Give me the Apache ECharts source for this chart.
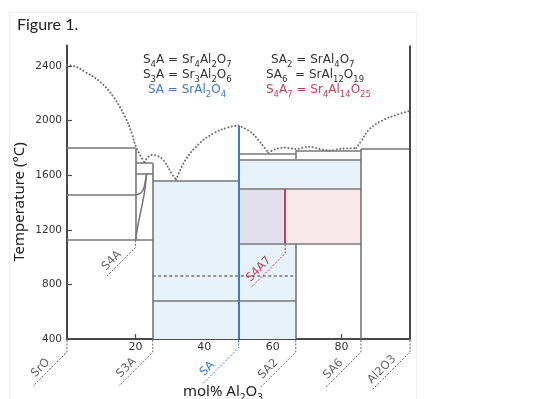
<!DOCTYPE html>
<html><head><meta charset="utf-8">
<script src="https://cdn.jsdelivr.net/npm/echarts@6/dist/echarts.min.js"></script>
<style>html,body{margin:0;padding:0;background:#fff}#c{width:560px;height:399px}</style>
</head><body><div id="c"></div>
<script>
// ---- data (mol% Al2O3, temperature °C) ----
const xTickValues = [20, 40, 60, 80];
const yTickValues = [400, 800, 1200, 1600, 2000, 2400];

// liquidus (dotted), split at the cusps
const liquidusA = [[0,2405],[2.5,2395],[5.2,2358],[9.6,2285],[13.5,2175],[16.9,2029],[18.9,1907],[20.3,1797],[22.6,1694]];
const liquidusB = [[22.6,1694],[23.6,1732],[25,1748],[26.5,1740],[28.1,1711],[30.5,1614],[31.8,1567]];
const liquidusC = [[31.8,1567],[34.6,1714],[38.75,1836],[42.9,1909],[47.1,1951],[50,1963]];
const liquidusD = [[50,1963],[53.4,1919],[55.8,1858],[57.7,1797],[58.7,1765]];
const liquidusE = [[58.7,1765],[61,1792],[63.6,1802],[66.7,1792],[70.5,1808],[74,1790],[76.5,1780],[80.5,1795],[84.3,1797]];
const liquidusF = [[84.3,1797],[85.5,1840],[88.3,1940],[92.2,2004],[96.1,2042],[100,2072]];

// solid phase-boundary segments [[x0,T0],[x1,T1]]
const boundaries = [
  [[0,1800],[20,1800]], [[0,1457],[20,1457]], [[0,1130],[25,1130]],
  [[20,1800],[20,1130]], [[20,1690],[25,1690]], [[20,1610],[25,1610]],
  [[25,1690],[25,400]], [[25,1560],[50,1560]], [[25,682],[66.7,682]],
  [[50,1760],[66.7,1760]], [[66.7,1716],[66.7,1780]], [[66.7,1780],[85.7,1780]],
  [[50,1716],[85.7,1716]], [[50,1500],[85.7,1500]], [[50,1100],[85.7,1100]],
  [[66.7,1100],[66.7,400]], [[85.7,1792],[85.7,400]], [[85.7,1792],[100,1792]]
];
const dashedBoundary = [[[25,862],[66.7,862]]];
const solvusCurve1 = [[20,1130],[20.8,1248],[21.8,1369],[22.7,1492],[23.2,1610]];
const solvusCurve2 = [[20,1457],[21.3,1467],[22.2,1492],[22.7,1541],[23.2,1610]];
const saLine = [[[50,1963],[50,400]]];
const s4a7Line = [[[63.6,1500],[63.6,1100]]];
const frameRight = [[[100,400],[100,2550]]];

// shaded fields [x0, x1, T0, T1]
const fieldsBlue = [[25,50,400,1560],[50,66.7,400,1100],[50,85.7,1500,1716]];
const fieldsPurple = [[50,63.6,1100,1500]];
const fieldsPink = [[63.6,85.7,1100,1500]];

// composition labels
const compNames = ['SrO','S3A','SA','SA2','SA6','Al2O3','S4A','S4A7'];
const compX = [0,25,50,66.7,85.7,100,20,63.6];
const compT = [400,400,400,400,400,400,1130,1100];

// legend formulas ({n} = subscript)
const formulasLeft = ['S{4}A = Sr{4}Al{2}O{7}', 'S{3}A = Sr{3}Al{2}O{6}', 'SA = SrAl{2}O{4}'];
const formulasRight = ['SA{2} = SrAl{4}O{7}', 'SA{6}  = SrAl{12}O{19}', 'S{4}A{7} = Sr{4}Al{14}O{25}'];

// ---- styles ----
const GREY = '#767676', AXIS = '#4a4a4a', BLUE = '#3d7cc6', RED = '#c23f58', TXT = '#333';
const guideStyle = [
  {c:'#666', drop:13, diag:34, at:0.62},
  {c:'#666', drop:13, diag:34, at:0.62},
  {c:BLUE,  drop:9,  diag:36, at:0.72},
  {c:'#666', drop:13, diag:36, at:0.62},
  {c:'#666', drop:13, diag:36, at:0.62},
  {c:'#666', drop:13, diag:38, at:0.6},
  {c:'#666', drop:8,  diag:30, at:0.62},
  {c:RED,   drop:10, diag:34, at:0.62}
];

function toRich(s){
  return s.split(/(\{[^}]*\})/).filter(t => t).map(t => t[0] === '{' ? '{s|' + t.slice(1,-1) + '}' : '{n|' + t + '}').join('');
}
function richStyles(color, size, sub){
  return {n:{fill:color, fontSize:size, fontFamily:'DejaVu Sans', lineHeight:size+3, verticalAlign:'top'},
          s:{fill:color, fontSize:sub, fontFamily:'DejaVu Sans', lineHeight:sub+2, verticalAlign:'bottom'}};
}
function formulaText(s, left, top, color){
  return {type:'text', left:left, top:top, silent:true,
    style:{text:toRich(s), rich:richStyles(color, 12, 8.5)}};
}

function rectSeries(data, color) {
  return {type:'custom', silent:true, z:1, data:data,
    renderItem:function(p, api){
      const a = api.coord([api.value(0), api.value(3)]);
      const b = api.coord([api.value(1), api.value(2)]);
      return {type:'rect', shape:{x:a[0], y:a[1], width:b[0]-a[0], height:b[1]-a[1]}, style:{fill:color}};
    }};
}
function segSeries(data, color, width, dash, z) {
  return {type:'lines', coordinateSystem:'cartesian2d', silent:true, z:z||3,
    data:data.map(s => ({coords:s})),
    lineStyle:{color:color, width:width, type:dash||'solid', opacity:1}};
}
function curveSeries(data, color, width, dash, smooth) {
  return {type:'line', data:data, smooth:smooth, symbol:'none', silent:true, z:4,
    lineStyle:{color:color, width:width, type:dash||'solid', cap:'round'}};
}
const dotted = [0.1, 3.4];

const guideData = compNames.map((n,i) => [compX[i], compT[i], n]);

const option = {
  animation:false,
  grid:{left:67, right:150, top:45.5, bottom:60, containLabel:false},
  xAxis:{type:'value', min:0, max:100,
    axisLine:{show:true, lineStyle:{color:AXIS, width:2}},
    axisTick:{show:true, inside:true, length:5, customValues:xTickValues, lineStyle:{color:AXIS, width:1.2}},
    axisLabel:{customValues:xTickValues, color:TXT, fontFamily:'DejaVu Sans', fontSize:11, margin:3, formatter:v => String(v)},
    splitLine:{show:false}},
  yAxis:{type:'value', min:400, max:2550,
    axisLine:{show:true, lineStyle:{color:AXIS, width:2}},
    axisTick:{show:true, inside:true, length:5, customValues:yTickValues, lineStyle:{color:AXIS, width:1.2}},
    axisLabel:{customValues:yTickValues, color:TXT, fontFamily:'DejaVu Sans', fontSize:10.5, margin:5, formatter:v => String(v)},
    splitLine:{show:false}},
  series:[
    rectSeries(fieldsBlue, '#e6f1fa'),
    rectSeries(fieldsPurple, '#e1e0ec'),
    rectSeries(fieldsPink, '#f9e8ec'),
    segSeries(boundaries, GREY, 1.6),
    segSeries(dashedBoundary, GREY, 1.5, [3,2.5]),
    segSeries(frameRight, AXIS, 2),
    curveSeries(solvusCurve1, GREY, 1.5, 'solid', 0.3),
    curveSeries(solvusCurve2, GREY, 1.5, 'solid', 0.4),
    curveSeries(liquidusA, '#707070', 2, dotted, 0.4),
    curveSeries(liquidusB, '#707070', 2, dotted, 0.4),
    curveSeries(liquidusC, '#707070', 2, dotted, 0.4),
    curveSeries(liquidusD, '#707070', 2, dotted, 0.4),
    curveSeries(liquidusE, '#707070', 2, dotted, 0.3),
    curveSeries(liquidusF, '#707070', 2, dotted, 0.4),
    segSeries(saLine, BLUE, 2, 'solid', 5),
    segSeries(s4a7Line, RED, 2, 'solid', 5),
    {type:'custom', silent:true, clip:false, z:6, data:guideData,
      renderItem:function(p, api){
        const g = guideStyle[p.dataIndex];
        const pt = api.coord([api.value(0), api.value(1)]);
        const x0 = pt[0], y0 = pt[1] + 1, y1 = pt[1] + g.drop, d = g.diag;
        const tx = x0 - d*g.at - 1, ty = y1 + d*g.at - 1;
        return {type:'group', children:[
          {type:'polyline', shape:{points:[[x0,y0],[x0,y1],[x0-d,y1+d]]},
            style:{stroke:g.c, lineWidth:1, lineDash:[2,1.5], fill:null}},
          {type:'text', x:tx, y:ty, rotation:Math.PI/4,
            style:{text:compNames[p.dataIndex], fill:g.c, font:'11.5px "DejaVu Sans"', align:'center', verticalAlign:'bottom'}}
        ]};
      }}
  ],
  graphic:[
    {type:'rect', left:7, top:10, shape:{width:407, height:400}, style:{fill:null, stroke:'#efefef', lineWidth:1}, silent:true},
    {type:'text', left:17, top:17, style:{text:'Figure 1.', fill:'#222', font:'16px Lato'}},
    formulaText(formulasLeft[0], 143, 54, TXT),
    formulaText(formulasLeft[1], 143, 69, TXT),
    formulaText(formulasLeft[2], 148, 84, BLUE),
    formulaText(formulasRight[0], 271, 54, TXT),
    formulaText(formulasRight[1], 266, 69, TXT),
    formulaText(formulasRight[2], 266, 84, RED),
    {type:'text', x:20, y:202, rotation:Math.PI/2, silent:true,
      style:{text:'Temperature (\u00b0C)', fill:'#222', font:'15px "Noto Sans"', align:'center', verticalAlign:'middle'}},
    {type:'text', left:183, top:384, silent:true,
      style:{text:toRich('mol% Al{2}O{3}'), rich:{
        n:{fill:'#222', fontSize:15, fontFamily:'Noto Sans', lineHeight:19, verticalAlign:'top'},
        s:{fill:'#222', fontSize:10, fontFamily:'Noto Sans', lineHeight:12, verticalAlign:'bottom'}}}}
  ]
};
echarts.init(document.getElementById('c')).setOption(option);
</script></body></html>
